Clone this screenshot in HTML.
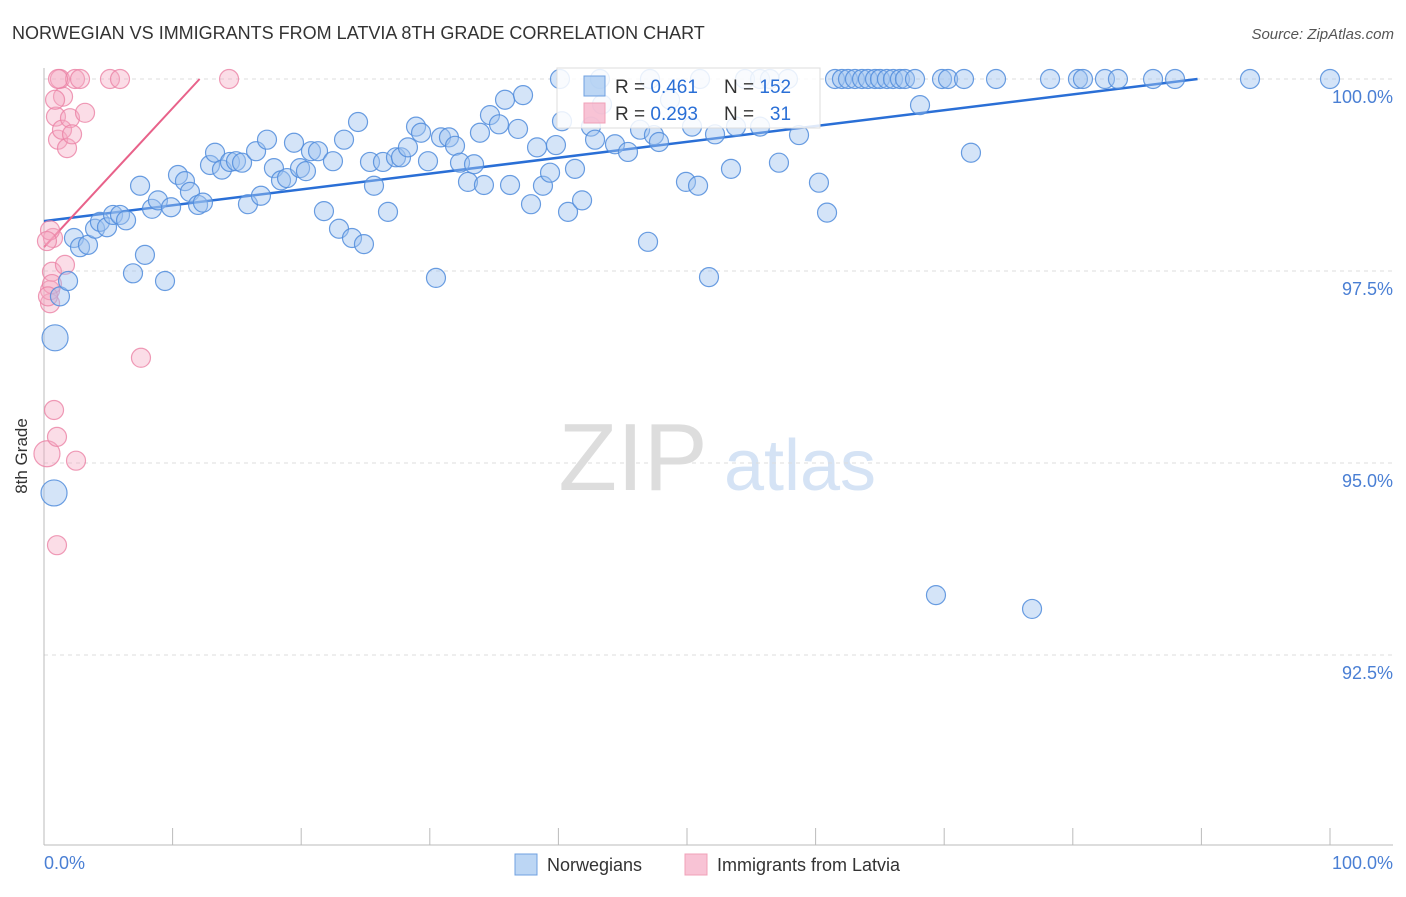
<!DOCTYPE html>
<html><head><meta charset="utf-8"><style>
body{margin:0;background:#fff;font-family:"Liberation Sans",sans-serif}
svg text{font-family:"Liberation Sans",sans-serif}
</style></head><body>
<svg width="1406" height="892" viewBox="0 0 1406 892">
<text x="12" y="39" font-size="18" fill="#333">NORWEGIAN VS IMMIGRANTS FROM LATVIA 8TH GRADE CORRELATION CHART</text>
<text x="1394" y="39" font-size="15" fill="#555" text-anchor="end" font-style="italic">Source: ZipAtlas.com</text>
<g id="watermark">
<text x="633" y="490" font-size="96" fill="#ddd" text-anchor="middle" font-family="Liberation Serif">ZIP</text>
<text x="800" y="490" font-size="72" fill="#d5e3f5" text-anchor="middle">atlas</text>
</g>
<g id="grid"></g>
<g id="axes"></g>
<g id="lines"></g>
<g id="pts"></g>
<text x="27" y="456" font-size="17" fill="#333" text-anchor="middle" transform="rotate(-90 27 456)">8th Grade</text>
<text x="44" y="869" font-size="18" fill="#4a7fd4">0.0%</text>
<text x="1393" y="869" font-size="18" fill="#4a7fd4" text-anchor="end">100.0%</text>
<g>
<rect x="557" y="68" width="263" height="60" fill="rgba(255,255,255,0.85)" stroke="#ddd"/>
<rect x="584" y="76" width="21" height="20" fill="rgba(160,196,240,0.7)" stroke="#6fa0e0"/>
<rect x="584" y="103" width="21" height="20" fill="rgba(245,170,195,0.7)" stroke="#f0a0b8"/>
<text x="615" y="93" font-size="19" fill="#333">R = <tspan fill="#2a6fd6">0.461</tspan></text>
<text x="724" y="93" font-size="19" fill="#333">N = <tspan fill="#2a6fd6">152</tspan></text>
<text x="615" y="120" font-size="19" fill="#333">R = <tspan fill="#2a6fd6">0.293</tspan></text>
<text x="724" y="120" font-size="19" fill="#333">N = <tspan fill="#2a6fd6">&#160;&#160;31</tspan></text>
</g>
<g>
<rect x="515" y="854" width="22" height="21" fill="rgba(160,196,240,0.7)" stroke="#6fa0e0"/>
<text x="547" y="871" font-size="18" fill="#333">Norwegians</text>
<rect x="685" y="854" width="22" height="21" fill="rgba(245,170,195,0.7)" stroke="#f0a0b8"/>
<text x="717" y="871" font-size="18" fill="#333">Immigrants from Latvia</text>
</g>
</svg>
<script>
const yTicks=[100,97.5,95,92.5];
const yTickLabels=["100.0%","97.5%","95.0%","92.5%"];
const xTicks=[10,20,30,40,50,60,70,80,90,100];
const blueX=[0.86,0.78,1.24,1.87,2.33,2.80,3.42,3.97,4.35,4.90,5.37,5.91,6.38,6.92,7.47,7.85,8.40,8.86,9.41,9.88,10.42,10.96,11.35,11.98,12.36,12.91,13.30,13.84,14.46,14.93,15.40,15.86,16.49,16.87,17.34,17.88,18.43,18.90,19.44,19.91,20.37,20.76,21.31,21.77,22.47,22.94,23.33,23.95,24.42,24.88,25.66,25.35,26.36,26.75,27.37,27.76,28.30,28.93,29.32,29.86,30.48,30.87,31.49,31.96,32.35,32.97,33.44,34.21,33.90,34.68,35.38,35.85,36.24,36.86,37.25,37.87,38.34,38.80,39.35,39.81,40.28,40.75,41.29,41.84,42.53,42.85,43.39,44.40,45.41,46.35,46.97,47.43,47.82,48.68,49.92,50.39,50.86,51.71,52.18,53.42,53.81,55.68,57.15,58.71,60.26,60.89,68.12,69.36,72.08,76.83,
40.12,43.23,47.12,51.01,54.51,55.68,56.45,57.85,61.51,62.05,62.52,63.06,63.61,64.07,64.62,65.01,65.55,66.02,66.56,66.95,67.73,69.83,70.30,71.54,74.03,78.23,80.40,80.79,82.50,83.51,86.24,87.95,93.78,100];
const blueY=[96.63,94.61,97.17,97.37,97.93,97.81,97.84,98.05,98.14,98.07,98.23,98.23,98.16,97.47,98.61,97.71,98.31,98.42,97.37,98.33,98.75,98.67,98.53,98.36,98.39,98.88,99.04,98.82,98.92,98.93,98.91,98.37,99.06,98.48,99.21,98.84,98.68,98.71,99.17,98.84,98.80,99.06,99.06,98.28,98.93,98.05,99.21,97.93,99.44,97.85,98.61,98.92,98.92,98.27,98.98,98.98,99.11,99.38,99.30,98.93,97.41,99.24,99.24,99.13,98.91,98.66,98.89,98.62,99.30,99.53,99.41,99.73,98.62,99.35,99.79,98.37,99.11,98.61,98.78,99.14,99.45,98.27,98.83,98.42,99.38,99.21,99.67,99.15,99.05,99.34,97.88,99.27,99.18,99.73,98.66,99.38,98.61,97.42,99.28,98.83,99.38,99.38,98.91,99.27,98.65,98.26,99.66,93.28,99.04,93.10,
100,100,100,100,100,100,100,100,100,100,100,100,100,100,100,100,100,100,100,100,100,100,100,100,100,100,100,100,100,100,100,100,100,100];
const blueBig=[0,1];
const pinkX=[0.23,0.47,0.47,0.62,0.70,0.93,1.09,1.24,1.01,0.78,1.01,1.40,1.48,1.63,1.79,2.02,2.18,2.41,2.49,2.80,3.19,5.13,5.91,7.54,14.39,0.47,0.23,0.62,0.31,0.86,1.09];
const pinkY=[95.12,97.08,97.25,97.49,97.93,99.51,99.21,100,95.34,95.69,93.93,99.34,99.77,97.58,99.10,99.49,99.28,100,95.03,100,99.56,100,100,96.37,100,98.03,97.89,97.33,97.17,99.73,100];
const pinkBig=[0];
const blueTrend=[[0,98.15],[89.7,100]];
const pinkTrend=[[0,97.81],[12.1,100]];
const NS="http://www.w3.org/2000/svg";
const X=v=>44+v*12.86;
const Y=v=>79+(100-v)*76.8;
function mk(tag,attrs,parent){const e=document.createElementNS(NS,tag);for(const k in attrs)e.setAttribute(k,attrs[k]);parent.appendChild(e);return e;}
const grid=document.getElementById('grid'),axes=document.getElementById('axes'),lines=document.getElementById('lines'),pts=document.getElementById('pts');
yTicks.forEach((t,i)=>{
 const l=mk('line',{x1:44,x2:1393,y1:Y(t),y2:Y(t),stroke:'#ddd','stroke-dasharray':'4,4'},grid);
 
 
 const tx=mk('text',{x:1393,y:Y(t)+24,'font-size':18,fill:'#4a7fd4','text-anchor':'end'},grid);
 tx.textContent=yTickLabels[i];
 
 
});
const ya=mk('line',{x1:44,x2:44,y1:68,y2:845,stroke:'#bbb'},axes);


const xa=mk('line',{x1:44,x2:1393,y1:845,y2:845,stroke:'#bbb'},axes);


xTicks.forEach(t=>{
 const l=mk('line',{x1:X(t),x2:X(t),y1:828,y2:845,stroke:'#bbb'},axes);
 
 
});
function dots(xs,ys,big,fill,stroke,name){
 xs.forEach((x,i)=>{
  const c=mk('circle',{cx:X(x),cy:Y(ys[i]),r:big.includes(i)?13:9.5,fill:fill,stroke:stroke,'stroke-width':1.2},pts);
  
  
 });
}
dots(pinkX,pinkY,pinkBig,'rgba(245,170,195,0.4)','rgba(235,130,165,0.8)','latvia-point');
dots(blueX,blueY,blueBig,'rgba(160,196,240,0.45)','rgba(80,140,220,0.85)','norwegian-point');
const bl=mk('line',{x1:X(blueTrend[0][0]),y1:Y(blueTrend[0][1]),x2:X(blueTrend[1][0]),y2:Y(blueTrend[1][1]),stroke:'#2a6fd6','stroke-width':2.5},lines);


const pl=mk('line',{x1:X(pinkTrend[0][0]),y1:Y(pinkTrend[0][1]),x2:X(pinkTrend[1][0]),y2:Y(pinkTrend[1][1]),stroke:'#e8628a','stroke-width':2},lines);


</script>
</body></html>
